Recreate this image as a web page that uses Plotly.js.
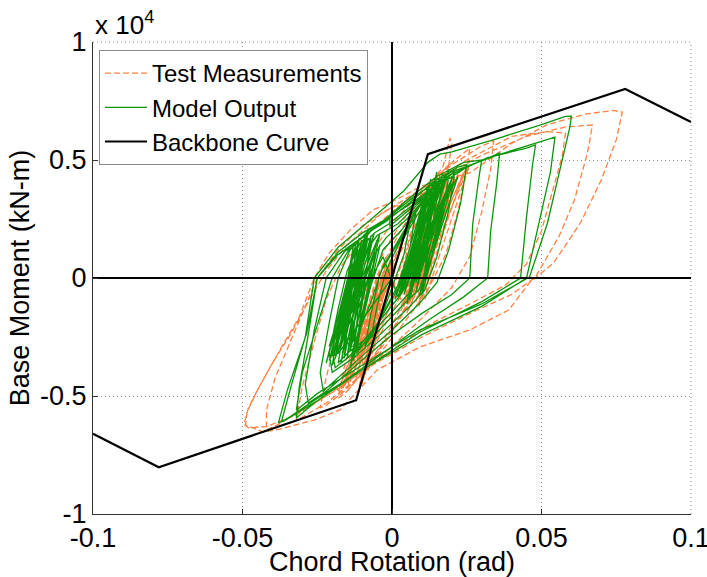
<!DOCTYPE html>
<html>
<head>
<meta charset="utf-8">
<script src="https://cdn.plot.ly/plotly-3.0.1.min.js"></script>
<style>html,body{margin:0;padding:0;background:#fff;}#chart{width:707px;height:577px;}</style>
</head>
<body>
<div id="chart"></div>
<script>
// Backbone curve
const backboneX = [-0.1, -0.078, -0.012, 0, 0.012, 0.078, 0.1];
const backboneY = [-6600, -8020, -5180, 0, 5250, 8010, 6610];

const testX = [0,0.004,0.022,0.006,0.018,0.008,0.025,0.003,0.015,0.010,0.020,0.005,0.013,0.009,0.024,0.007,0.017,0.011,0.021,0.004,0.014,0.006,0.023,0.004,0.016,0.009,0.021,0.007,0.019,0.011,0.026,0.005,0.012,0.008,0.018,0.002,-0.016,-0.001,-0.012,0.000,-0.010,-0.003,-0.018,-0.002,-0.008,0.001,-0.014,-0.004,-0.011,-0.001,-0.017,-0.003,-0.009,0.000,-0.013,-0.002,-0.015,0.001,-0.011,-0.002,-0.017,-0.004,-0.009,0.000,-0.013,-0.001,0.003,0.006,0.008,0.007,0.004,0.001,-0.003,-0.006,-0.007,-0.006,-0.003,0.001,0.006,0.010,0.012,0.011,0.008,0.004,-0.002,-0.007,-0.010,-0.009,-0.005,0.001,0.007,0.012,0.015,0.014,0.011,0.007,0.002,-0.004,-0.010,-0.012,-0.010,-0.006,-0.002,0.005,0.011,0.016,0.019,0.018,0.015,0.011,0.006,0.000,-0.007,-0.013,-0.015,-0.013,-0.009,-0.005,0.002,0.010,0.017,0.0194,0.020,0.019,0.016,0.012,0.007,0.000,-0.008,-0.015,-0.018,-0.016,-0.012,-0.008,-0.002,0.006,0.014,0.022,0.026,0.025,0.022,0.018,0.012,0.004,-0.006,-0.016,-0.022,-0.024,-0.022,-0.018,-0.014,-0.008,0.000,0.010,0.020,0.030,0.034,0.033,0.030,0.026,0.020,0.010,0.000,-0.012,-0.022,-0.030,-0.032,-0.030,-0.026,-0.022,-0.017,-0.009,0.000,0.012,0.025,0.040,0.052,0.058,0.057,0.054,0.050,0.045,0.038,0.026,0.012,-0.004,-0.018,-0.030,-0.038,-0.042,-0.042,-0.039,-0.034,-0.029,-0.025,-0.018,-0.010,0.000,0.014,0.030,0.045,0.058,0.067,0.066,0.065,0.061,0.056,0.048,0.040,0.026,0.010,-0.008,-0.022,-0.032,-0.042,-0.048,-0.0495,-0.048,-0.045,-0.0375,-0.031,-0.026,-0.021,-0.014,-0.0064,-0.0007,0.010,0.026,0.040,0.052,0.065,0.074,0.077,0.075,0.070,0.063,0.054,0.046,0.039,0.026,0.0094,-0.005,-0.0174,-0.026,-0.0375,-0.043,-0.049,-0.0485,-0.045,-0.040,-0.034,-0.028,-0.022,-0.015,-0.008,-0.003,0.004,0.010,0.008,0.004,0.000,-0.006,-0.011,-0.009,-0.004,0.002,0.008,0.013,0.017];
const testY = [0,-1200,4400,-800,4000,-1000,4700,-1400,3600,-500,4100,-900,3200,-1200,4500,-600,3800,-300,4300,-1100,3000,-1300,4600,-700,3900,-1100,4200,-400,4400,-900,4800,-1500,3500,-600,4200,-700,-4600,500,-4200,800,-4500,200,-4800,900,-3900,600,-4400,-200,-3600,400,-4700,100,-4100,700,-3300,-300,-4300,300,-4600,600,-4900,400,-3700,1000,-4100,200,1400,2500,2900,2100,600,-700,-1900,-2800,-3000,-2100,-600,900,2400,3300,3600,2600,1000,-500,-1900,-3200,-3700,-2600,-900,800,2600,3700,4100,3000,1400,-100,-1500,-2900,-4000,-4300,-3000,-1300,300,2200,3600,4400,4800,3700,2100,400,-1000,-2300,-3600,-4500,-4800,-3500,-1600,100,1800,3500,4700,5930,5700,4800,2900,900,-700,-2200,-3700,-4800,-5100,-3800,-2000,-300,1300,2900,4200,5100,5500,4500,2800,1000,-500,-1900,-3500,-4800,-5400,-5500,-4200,-2300,-600,900,2300,3700,4800,5600,5800,4600,2800,900,-400,-1700,-2900,-4300,-5300,-5900,-6000,-4600,-2700,-900,500,1800,2800,4000,5000,6000,6200,6140,5200,3800,2000,600,-300,-1100,-2000,-3400,-4700,-5600,-6200,-6440,-5600,-4200,-2700,-1200,0,1200,2200,3000,4100,5200,6000,6400,6480,5700,5130,3300,1800,40,-700,-1500,-2500,-3800,-5000,-5800,-6300,-6350,-6200,-5500,-4750,-3050,-1650,0,1060,2030,2880,3180,3900,4450,5700,6500,6950,7100,7030,5850,4150,2330,630,-200,-1360,-2200,-2920,-3900,-5590,-6020,-6400,-6530,-6230,-5700,-4750,-3600,-2400,-1000,300,1400,2200,2800,3200,3600,2600,900,-600,-1900,-3200,-2400,-800,900,2300,3400,4000];

// Model output (chronological trace)
const modelX = [0,-0.018,-0.011,-0.020,-0.012,-0.016,-0.008,-0.019,-0.010,-0.015,-0.006,-0.017,-0.009,-0.014,-0.005,-0.021,-0.013,-0.016,-0.007,-0.012,-0.004,-0.018,-0.011,-0.013,-0.006,-0.019,-0.010,-0.022,-0.014,-0.017,-0.008,-0.020,-0.009,-0.017,-0.012,-0.021,-0.007,-0.014,-0.004,-0.018,-0.011,-0.016,-0.006,-0.020,-0.013,-0.015,-0.008,-0.019,-0.010,-0.013,-0.005,-0.015,-0.003,0.002,0.014,0.004,0.016,0.006,0.012,0.003,0.018,0.008,0.015,0.005,0.020,0.009,0.013,0.004,0.017,0.010,0.019,0.006,0.011,0.001,0.016,0.007,0.021,0.003,0.013,0.005,0.019,0.008,0.014,0.002,0.017,0.007,0.012,0.004,0.020,0.010,0.015,0.006,0.018,0.009,0.022,0.005,0.011,0.003,0.006,0.004,0.000,-0.004,-0.007,-0.005,-0.002,0.004,0.008,0.006,0.002,-0.005,-0.009,-0.007,-0.004,0.002,0.007,0.010,0.008,0.004,0.000,-0.007,-0.012,-0.010,-0.007,-0.003,0.003,0.009,0.013,0.011,0.007,0.003,-0.004,-0.011,-0.015,-0.013,-0.010,-0.006,-0.002,0.005,0.012,0.016,0.014,0.010,0.006,0.001,-0.008,-0.015,-0.018,-0.016,-0.013,-0.009,-0.005,0.002,0.010,0.016,0.019,0.017,0.013,0.009,0.004,-0.005,-0.014,-0.019,-0.020,-0.017,-0.014,-0.010,-0.006,-0.001,0.007,0.015,0.021,0.019,0.015,0.011,0.006,-0.004,-0.013,-0.020,-0.021,-0.018,-0.015,-0.011,-0.007,-0.002,0.006,0.014,0.022,0.025,0.023,0.019,0.015,0.009,0.000,-0.010,-0.018,-0.023,-0.024,-0.021,-0.018,-0.014,-0.008,-0.003,0.005,0.015,0.024,0.030,0.029,0.027,0.026,0.020,0.010,0.000,-0.012,-0.022,-0.028,-0.029,-0.026,-0.022,-0.016,-0.008,-0.0007,-0.0007,0.004,0.014,0.025,0.036,0.035,0.033,0.032,0.024,0.012,0.000,-0.014,-0.026,-0.032,-0.031,-0.028,-0.025,-0.018,-0.008,-0.0007,0.008,0.020,0.032,0.045,0.048,0.047,0.045,0.043,0.030,0.0094,-0.010,-0.025,-0.036,-0.038,-0.035,-0.0285,-0.025,-0.018,-0.010,-0.002,0.008,0.020,0.035,0.050,0.0545,0.053,0.049,0.045,0.030,0.010,-0.010,-0.025,-0.035,-0.037,-0.034,-0.029,-0.026,-0.018,-0.006,0.004,0.012,0.016,0.020,0.035,0.050,0.058,0.060,0.0595,0.0585,0.055,0.052,0.046,0.030,0.0094,-0.010,-0.025,-0.032,-0.030,-0.025,-0.020,-0.014,-0.008,-0.012,-0.017,-0.013,-0.007,-0.003,0.004,0.010,0.007];
const modelY = [0,-3200,1200,-3000,1500,-3400,1700,-2600,900,-3300,1900,-2900,1300,-3100,1600,-3500,600,-2400,1800,-3000,1400,-2200,1000,-2700,1100,-3300,1600,-3600,400,-2800,2000,-3300,1800,-3600,800,-2900,1500,-3800,1900,-2500,1700,-3000,600,-3700,1300,-2300,2100,-3100,400,-3500,1200,-1800,900,-800,4100,-400,4300,-900,3600,-200,4400,-600,3900,-1000,4200,0,3300,-700,4000,-300,3800,-500,3500,-900,4200,-100,4500,-600,4200,-1100,4600,-200,3700,-900,4400,0,3900,-500,4000,-700,4500,-300,3600,-800,4300,200,3200,1500,2300,1000,-400,-1800,-2500,-1200,300,1900,2800,1300,-300,-2000,-2900,-1500,200,1500,2600,3200,1800,0,-900,-2400,-3200,-1800,-300,1200,2000,3000,3700,2200,300,-700,-1800,-2900,-3400,-2000,-400,1000,1700,2500,3500,4100,2600,600,-600,-1300,-2500,-3200,-3600,-2100,-300,1100,1800,2300,3300,4000,4300,2800,800,-500,-1100,-2300,-3300,-3800,-3100,-1400,200,1300,1900,2300,3100,4000,4500,2900,900,-500,-1200,-2400,-3400,-4000,-3200,-1300,300,1400,2000,2400,3200,4100,4700,4800,3200,1200,-200,-1100,-2200,-3300,-4200,-4800,-4000,-1900,0,1200,2000,2400,3300,4300,4900,5000,4200,2300,0,-700,-1500,-2400,-3700,-4800,-5300,-4500,-2200,0,1100,1900,2580,2200,2700,3800,4700,5300,4000,2000,0,-800,-1800,-2900,-4200,-5300,-5930,-4600,-2400,0,1000,1900,2580,3300,4400,5100,5500,5640,4800,2600,0,-1000,-2290,-3900,-5200,-6050,-6140,-4750,-2330,0,1100,1900,2500,3500,4500,5200,5800,5970,4500,2200,0,-1200,-2400,-3900,-5100,-5950,-6100,-4700,-2500,0,1300,2600,3700,4900,5250,5340,5900,6500,6850,6860,6400,5850,4000,2330,40,-1100,-2200,-3700,-4900,-5600,-4000,-2000,0,1300,1900,-200,-2600,-2900,-1000,500,2000,2900,1500];

// Axis reference lines through the origin
const axisLineX = [-0.1, 0.1];
const axisLineY = [-10000, 10000];

const xTickVals = [-0.1, -0.05, 0, 0.05, 0.1];
const xTickText = ['-0.1', '-0.05', '0', '0.05', '0.1'];
const yTickVals = [-10000, -5000, 0, 5000, 10000];
const yTickText = ['-1', '-0.5', '0', '0.5', '1'];

const FONT = 'Liberation Sans, Arial, Helvetica, sans-serif';
const GRID = '#8c8c8c';
const GRIDDASH = '1px,3px';

const traces = [
  {x: testX, y: testY, type: 'scatter', mode: 'lines', name: 'Test Measurements',
   line: {color: '#ff8040', width: 1.3, dash: '6px,3px'}},
  {x: modelX, y: modelY, type: 'scatter', mode: 'lines', name: 'Model Output',
   line: {color: '#0c960c', width: 1.3}},
  {x: axisLineX, y: [0, 0], type: 'scatter', mode: 'lines', showlegend: false, hoverinfo: 'skip',
   line: {color: '#000', width: 2}},
  {x: [0, 0], y: axisLineY, type: 'scatter', mode: 'lines', showlegend: false, hoverinfo: 'skip',
   line: {color: '#000', width: 2}},
  {x: backboneX, y: backboneY, type: 'scatter', mode: 'lines', name: 'Backbone Curve',
   line: {color: '#000', width: 2.2}}
];

const layout = {
  width: 707, height: 577,
  margin: {l: 93, r: 16, t: 42, b: 63, pad: 0},
  paper_bgcolor: '#fff', plot_bgcolor: '#fff',
  font: {family: FONT, size: 27, color: '#000'},
  showlegend: true,
  legend: {x: 0.01, y: 0.983, xanchor: 'left', yanchor: 'top',
           bgcolor: '#fff', bordercolor: '#8a8a8a', borderwidth: 1,
           itemwidth: 42, entrywidth: 286, entrywidthmode: 'pixels',
           font: {family: FONT, size: 24, color: '#000'}, tracegroupgap: 0},
  xaxis: {range: [-0.1, 0.1], tickvals: xTickVals, ticktext: xTickText,
          showgrid: true, gridcolor: GRID, griddash: GRIDDASH, gridwidth: 1,
          zeroline: false, showline: true, linecolor: '#333', linewidth: 1,
          ticks: 'inside', ticklen: 5, tickcolor: '#333',
          ticklabeloverflow: 'allow',
          tickfont: {family: FONT, size: 27, color: '#000'},
          title: {text: 'Chord Rotation (rad)', font: {family: FONT, size: 27, color: '#000'}, standoff: 8},
          automargin: false, fixedrange: true},
  yaxis: {range: [-10000, 10000], tickvals: yTickVals, ticktext: yTickText,
          showgrid: true, gridcolor: GRID, griddash: GRIDDASH, gridwidth: 1,
          zeroline: false, showline: true, linecolor: '#333', linewidth: 1,
          ticks: 'inside', ticklen: 5, tickcolor: '#333',
          ticklabeloverflow: 'allow',
          tickfont: {family: FONT, size: 27, color: '#000'},
          title: {text: 'Base Moment (kN-m)', font: {family: FONT, size: 27, color: '#000'}, standoff: 2},
          automargin: false, fixedrange: true},
  shapes: [
    {type: 'line', xref: 'paper', yref: 'paper', x0: 1, x1: 1, y0: 0, y1: 1, layer: 'below',
     line: {color: GRID, width: 1, dash: GRIDDASH}},
    {type: 'line', xref: 'paper', yref: 'paper', x0: 0, x1: 1, y0: 1, y1: 1, layer: 'below',
     line: {color: GRID, width: 1, dash: GRIDDASH}}
  ],
  annotations: [{xref: 'paper', yref: 'paper', x: 0, y: 1, xanchor: 'left', yanchor: 'bottom',
                 yshift: 0, showarrow: false, text: 'x 10<sup>4</sup>',
                 font: {family: FONT, size: 26, color: '#000'}}]
};

Plotly.newPlot('chart', traces, layout, {displayModeBar: false, staticPlot: true});
</script>
</body>
</html>
